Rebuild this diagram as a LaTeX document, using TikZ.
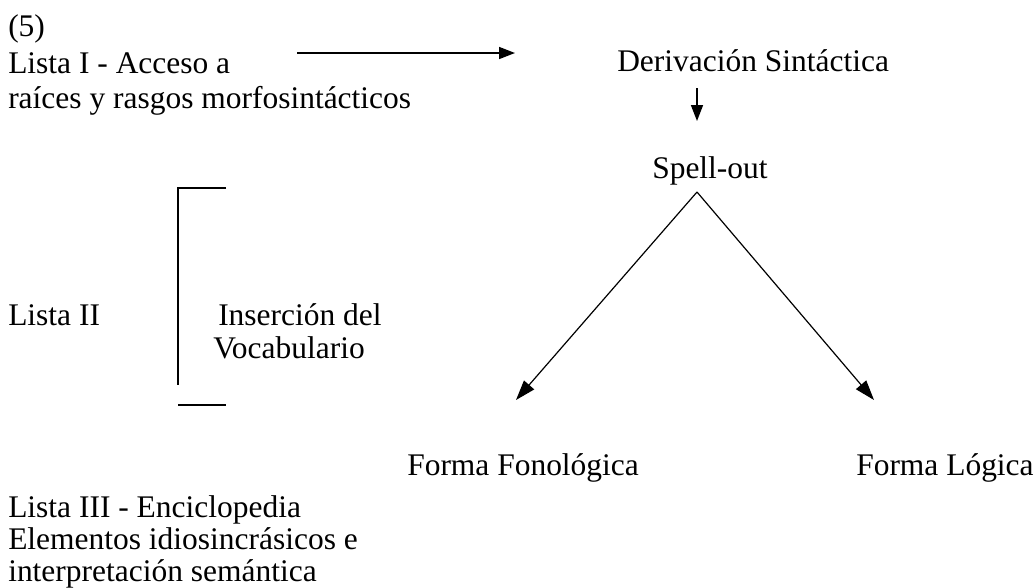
\documentclass[tikz,border=0pt]{standalone}
\usepackage{fontspec}
\setmainfont{Liberation Serif}
\usetikzlibrary{arrows.meta}
\begin{document}
\begin{tikzpicture}[x=0.75pt,y=-0.75pt,
  lbl/.style={anchor=base west,inner sep=0pt,font=\fontsize{23.6pt}{28pt}\selectfont},
  arr/.style={line width=1.2pt,-{Triangle[length=12pt,width=9pt]}},
  diag/.style={line width=0.9pt,-{Triangle[length=15pt,width=10pt]}},
  brk/.style={line width=1.3pt}]
\useasboundingbox (0,0) rectangle (1035,587);
% left column
\node[lbl] (n5) at (8,36) {(5)};
\node[lbl] (l1a) at (8,73) {Lista I - Acceso a};
\node[lbl] (l1b) at (8,108) {raíces y rasgos morfosintácticos};
\node[lbl] (l2) at (8,325) {Lista II};
\node[lbl] (ins) at (218,325) {Inserción del};
\node[lbl] (voc) at (213,358) {Vocabulario};
\node[lbl] (l3a) at (8,517) {Lista III - Enciclopedia};
\node[lbl] (l3b) at (8,549) {Elementos idiosincrásicos e};
\node[lbl] (l3c) at (8,581) {interpretación semántica};
% right part
\node[lbl] (der) at (617,71) {Derivación Sintáctica};
\node[lbl] (spl) at (652,178) {Spell-out};
\node[lbl] (ff) at (407,475) {Forma Fonológica};
\node[lbl] (fl) at (856,475) {Forma Lógica};
% coordinates
\coordinate (a1) at (297,53);
\coordinate (a2) at (515,53);
\coordinate (d1) at (697,88);
\coordinate (d2) at (697,121);
\coordinate (apex) at (697,192);
\coordinate (vl) at (516,400);
\coordinate (vr) at (874,400);
\coordinate (bt1) at (226,188);
\coordinate (bt2) at (178,188);
\coordinate (bv) at (178,385);
\coordinate (bb1) at (178,405);
\coordinate (bb2) at (226,405);
% connectors
\draw[arr] (a1) -- (a2);
\draw[arr] (d1) -- (d2);
\draw[diag] (apex) -- (vl);
\draw[diag] (apex) -- (vr);
\draw[brk] (bt1) -- (bt2) -- (bv);
\draw[brk] (bb1) -- (bb2);
\end{tikzpicture}
\end{document}
